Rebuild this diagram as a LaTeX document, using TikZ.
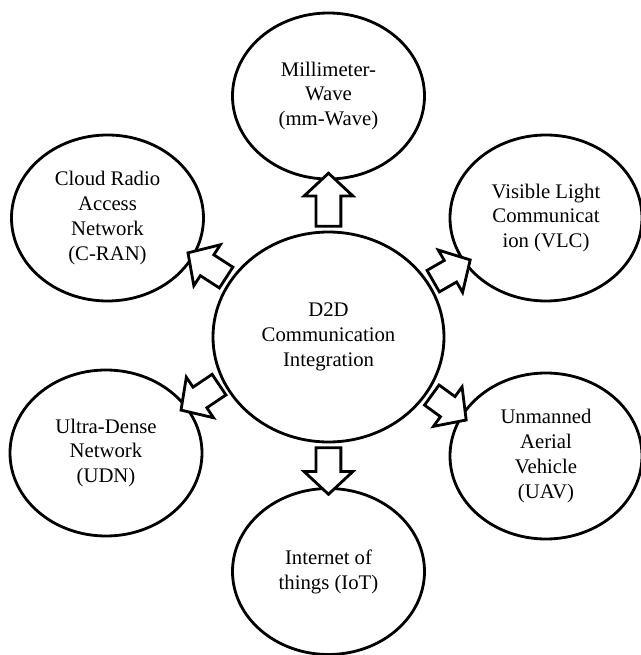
\documentclass[tikz,border=0pt]{standalone}
\usepackage{fontspec}
\setmainfont{Liberation Serif}
\usetikzlibrary{positioning,shapes,shapes.arrows,calc}
\tikzstyle{obox}=[ellipse, draw=black, line width=1.6pt, fill=white,
                  minimum width=3.84cm, minimum height=3.32cm, inner sep=1pt,
                  outer sep=0pt, align=center,
                  font=\fontsize{11.8pt}{14.2pt}\selectfont]
\tikzstyle{cbox}=[obox, minimum width=4.62cm, minimum height=4.2cm]
\tikzstyle{barrow}=[single arrow, draw=black, line width=1.6pt, fill=white,
 inner xsep=0pt, inner ysep=0.22cm, single arrow head extend=0.24cm,
 single arrow tip angle=94, sloped, allow upside down]

\begin{document}
\begin{tikzpicture}
\useasboundingbox (-6.57,-6.36) rectangle (6.25,6.74);

\node (D2D) [cbox] at (0,0) {D2D\\Communication\\Integration};
\node (MMW) [obox] at (0,4.82) {Millimeter-\\Wave\\(mm-Wave)};
\node (CRAN) [obox] at (-4.42,2.38) {Cloud Radio\\Access\\Network\\(C-RAN)};
\node (VLC) [obox] at (4.35,2.38) {Visible Light\\Communicat\\ion (VLC)};
\node (UDN) [obox] at (-4.45,-2.32) {Ultra-Dense\\Network\\(UDN)};
\node (UAV) [obox] at (4.35,-2.38) {Unmanned\\Aerial\\Vehicle\\(UAV)};
\node (IOT) [obox] at (0,-4.69) {Internet of\\things (IoT)};

 \path let \p1=(D2D.90), \p2=(MMW.-90) in (\p1) -- (\p2)
   node[barrow, midway, minimum height={veclen(\x2-\x1,\y2-\y1)}] {};
 \path let \p1=(D2D.150), \p2=(CRAN.-24) in (\p1) -- (\p2)
   node[barrow, midway, minimum height={veclen(\x2-\x1,\y2-\y1)}] {};
 \path let \p1=(D2D.28.5), \p2=(VLC.-151) in (\p1) -- (\p2)
   node[barrow, midway, minimum height={veclen(\x2-\x1,\y2-\y1)}] {};
 \path let \p1=(D2D.203.4), \p2=(UDN.30) in (\p1) -- (\p2)
   node[barrow, midway, minimum height={veclen(\x2-\x1,\y2-\y1)}] {};
 \path let \p1=(D2D.-29.6), \p2=(UAV.155) in (\p1) -- (\p2)
   node[barrow, midway, minimum height={veclen(\x2-\x1,\y2-\y1)}] {};
 \path let \p1=(D2D.-90), \p2=(IOT.90) in (\p1) -- (\p2)
   node[barrow, midway, minimum height={veclen(\x2-\x1,\y2-\y1)}] {};

\end{tikzpicture}
\end{document}
